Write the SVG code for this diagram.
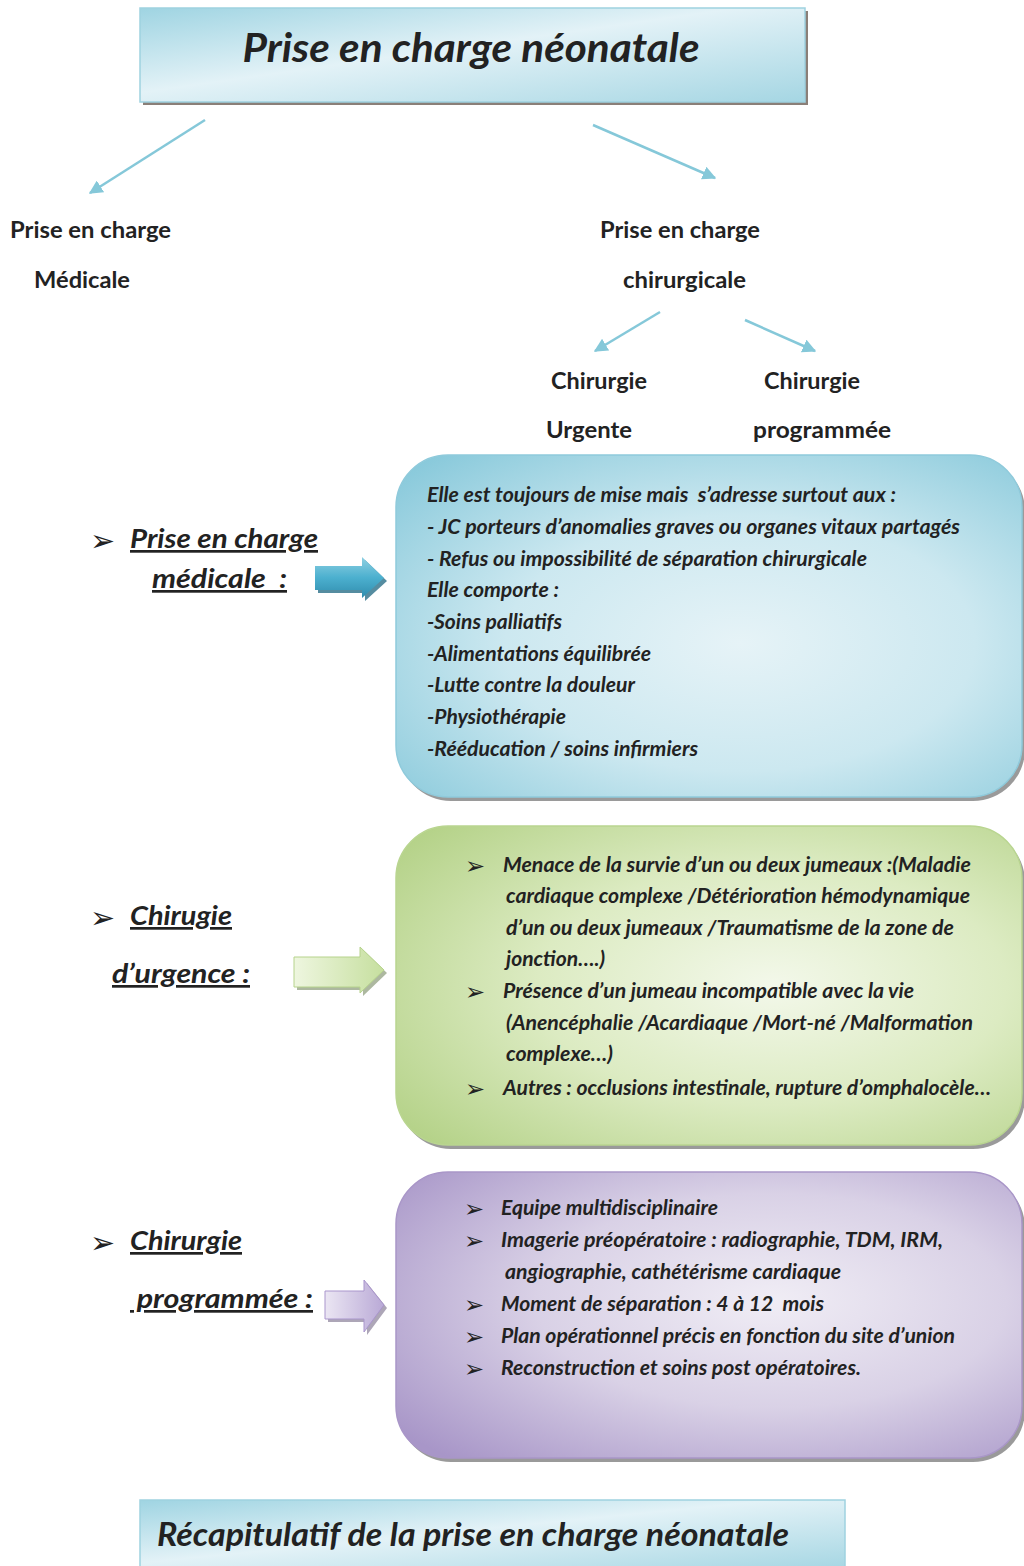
<svg xmlns="http://www.w3.org/2000/svg" width="1024" height="1566" viewBox="0 0 1024 1566">
<style>
  .t{font-family:"Lato","Open Sans",sans-serif;font-weight:bold;fill:#222;}
  .it{font-style:italic;}
  .lbl{font-size:22px;}
  .body{font-size:20px;font-style:italic;}
  .head{font-size:27px;font-style:italic;text-decoration:underline;white-space:pre;}
  .bul{font-family:"DejaVu Sans",sans-serif;font-size:24px;fill:#222;}
  .bulL{font-family:"DejaVu Sans",sans-serif;font-size:30px;fill:#222;}
  .conn{stroke:#85c8d9;stroke-width:2.5;fill:none;marker-end:url(#ah);}
</style>
<defs>
  <marker id="ah" viewBox="0 0 10 10" refX="9" refY="5" markerWidth="5.5" markerHeight="5.5" orient="auto" markerUnits="strokeWidth">
    <path d="M0,0 L10,5 L0,10 z" fill="#85c8d9"/>
  </marker>
  <linearGradient id="gTitle" x1="0" y1="0" x2="1" y2="1">
    <stop offset="0" stop-color="#9fd4e2"/>
    <stop offset="0.45" stop-color="#e3f2f7"/>
    <stop offset="1" stop-color="#a5d6e3"/>
  </linearGradient>
  <radialGradient id="gBlue" cx="0.55" cy="0.55" r="0.75">
    <stop offset="0" stop-color="#e6f3f7"/>
    <stop offset="0.5" stop-color="#cce8f0"/>
    <stop offset="1" stop-color="#86c8da"/>
  </radialGradient>
  <radialGradient id="gGreen" cx="0.6" cy="0.5" r="0.75">
    <stop offset="0" stop-color="#f3f8ea"/>
    <stop offset="0.5" stop-color="#dcebc2"/>
    <stop offset="1" stop-color="#b3d186"/>
  </radialGradient>
  <radialGradient id="gPurple" cx="0.6" cy="0.45" r="0.75">
    <stop offset="0" stop-color="#f0edf5"/>
    <stop offset="0.5" stop-color="#d9d1e6"/>
    <stop offset="1" stop-color="#a896c8"/>
  </radialGradient>
  <linearGradient id="aBlue" x1="0" y1="0" x2="0" y2="1">
    <stop offset="0" stop-color="#8fd0e2"/>
    <stop offset="0.5" stop-color="#4cb0cf"/>
    <stop offset="1" stop-color="#2f8cad"/>
  </linearGradient>
  <linearGradient id="aGreen" x1="0" y1="0" x2="1" y2="0">
    <stop offset="0" stop-color="#eef6df"/>
    <stop offset="1" stop-color="#c6df9f"/>
  </linearGradient>
  <linearGradient id="aPurple" x1="0" y1="0" x2="1" y2="0">
    <stop offset="0" stop-color="#ebe6f3"/>
    <stop offset="1" stop-color="#b9a9d6"/>
  </linearGradient>
</defs>
<rect width="1024" height="1566" fill="#ffffff"/>

<g id="title">
  <rect x="143" y="11" width="665" height="94" fill="#8a7f78"/>
  <rect x="140" y="8" width="665" height="94" fill="url(#gTitle)" stroke="#9fd2e0" stroke-width="1.5"/>
  <text class="t it" x="471" y="62" font-size="40" text-anchor="middle" textLength="457" lengthAdjust="spacingAndGlyphs">Prise en charge néonatale</text>
</g>

<g id="connectors">
  <line class="conn" x1="205" y1="120" x2="90" y2="193"/>
  <line class="conn" x1="593" y1="125" x2="715" y2="178"/>
  <line class="conn" x1="660" y1="312" x2="595" y2="351"/>
  <line class="conn" x1="745" y1="320" x2="815" y2="351"/>
</g>

<g id="n-medicale">
  <text class="t lbl" x="10" y="238" textLength="161" lengthAdjust="spacingAndGlyphs">Prise en charge</text>
  <text class="t lbl" x="34" y="288" textLength="96" lengthAdjust="spacingAndGlyphs">Médicale</text>
</g>
<g id="n-chirurgicale">
  <text class="t lbl" x="600" y="238" textLength="160" lengthAdjust="spacingAndGlyphs">Prise en charge</text>
  <text class="t lbl" x="623" y="288" textLength="123" lengthAdjust="spacingAndGlyphs">chirurgicale</text>
</g>
<g id="n-urgente">
  <text class="t lbl" x="551" y="389" textLength="96" lengthAdjust="spacingAndGlyphs">Chirurgie</text>
  <text class="t lbl" x="546" y="438" textLength="86" lengthAdjust="spacingAndGlyphs">Urgente</text>
</g>
<g id="n-programmee">
  <text class="t lbl" x="764" y="389" textLength="96" lengthAdjust="spacingAndGlyphs">Chirurgie</text>
  <text class="t lbl" x="753" y="438" textLength="138" lengthAdjust="spacingAndGlyphs">programmée</text>
</g>

<!-- Section 1 -->
<g id="label-medicale">
  <text class="bulL" x="90" y="551">➢</text>
  <text class="t head" x="130" y="548" textLength="188" lengthAdjust="spacingAndGlyphs">Prise en charge</text>
  <text class="t head" x="152" y="588" textLength="135" lengthAdjust="spacingAndGlyphs" xml:space="preserve">médicale  :</text>
</g>
<g id="arrow-medicale">
  <path d="M318,569 H365 V560 L387,581 L365,601 V593 H318 Z" fill="#2a6f88" opacity="0.8"/>
  <path d="M315,566 H362 V557 L384,578 L362,598 V590 H315 Z" fill="url(#aBlue)"/>
</g>
<g id="box-medicale">
  <rect x="399" y="459" width="626" height="342" rx="52" fill="#9a9a9a"/>
  <rect x="396" y="455" width="626" height="342" rx="52" fill="url(#gBlue)" stroke="#8fcadb" stroke-width="1.5"/>
  <g class="t body">
    <text x="427" y="502" textLength="469" lengthAdjust="spacingAndGlyphs" xml:space="preserve">Elle est toujours de mise mais  s’adresse surtout aux :</text>
    <text x="427" y="534" textLength="533" lengthAdjust="spacingAndGlyphs">- JC porteurs d’anomalies graves ou organes vitaux partagés</text>
    <text x="427" y="566" textLength="440" lengthAdjust="spacingAndGlyphs">- Refus ou impossibilité de séparation chirurgicale</text>
    <text x="427" y="597" textLength="132" lengthAdjust="spacingAndGlyphs">Elle comporte :</text>
    <text x="427" y="629" textLength="135" lengthAdjust="spacingAndGlyphs">-Soins palliatifs</text>
    <text x="427" y="661" textLength="224" lengthAdjust="spacingAndGlyphs">-Alimentations équilibrée</text>
    <text x="427" y="692" textLength="208" lengthAdjust="spacingAndGlyphs">-Lutte contre la douleur</text>
    <text x="427" y="724" textLength="139" lengthAdjust="spacingAndGlyphs">-Physiothérapie</text>
    <text x="427" y="756" textLength="271" lengthAdjust="spacingAndGlyphs">-Rééducation / soins infirmiers</text>
  </g>
</g>

<!-- Section 2 -->
<g id="label-urgence">
  <text class="bulL" x="90" y="928">➢</text>
  <text class="t head" x="130" y="925" textLength="102" lengthAdjust="spacingAndGlyphs">Chirugie</text>
  <text class="t head" x="112" y="983" textLength="138" lengthAdjust="spacingAndGlyphs">d’urgence :</text>
</g>
<g id="arrow-urgence">
  <path d="M297,960 H363 V950 L387,973 L363,996 V990 H297 Z" fill="#8a9a78" opacity="0.7"/>
  <path d="M294,957 H360 V947 L384,970 L360,993 V987 H294 Z" fill="url(#aGreen)" stroke="#b6d38c" stroke-width="1"/>
</g>
<g id="box-urgence">
  <rect x="399" y="830" width="626" height="319" rx="52" fill="#9a9a9a"/>
  <rect x="396" y="826" width="626" height="319" rx="52" fill="url(#gGreen)" stroke="#b9d590" stroke-width="1.5"/>
  <g class="bul">
    <text x="465" y="874">➢</text>
    <text x="465" y="1000">➢</text>
    <text x="465" y="1097">➢</text>
  </g>
  <g class="t body">
    <text x="503" y="872" textLength="468" lengthAdjust="spacingAndGlyphs">Menace de la survie d’un ou deux jumeaux :(Maladie</text>
    <text x="506" y="903" textLength="464" lengthAdjust="spacingAndGlyphs">cardiaque complexe /Détérioration hémodynamique</text>
    <text x="506" y="935" textLength="448" lengthAdjust="spacingAndGlyphs">d’un ou deux jumeaux /Traumatisme de la zone de</text>
    <text x="506" y="966" textLength="99" lengthAdjust="spacingAndGlyphs">jonction….)</text>
    <text x="503" y="998" textLength="411" lengthAdjust="spacingAndGlyphs">Présence d’un jumeau incompatible avec la vie</text>
    <text x="506" y="1030" textLength="467" lengthAdjust="spacingAndGlyphs">(Anencéphalie /Acardiaque /Mort-né /Malformation</text>
    <text x="506" y="1061" textLength="107" lengthAdjust="spacingAndGlyphs">complexe…)</text>
    <text x="503" y="1095" textLength="488" lengthAdjust="spacingAndGlyphs">Autres : occlusions intestinale, rupture d’omphalocèle…</text>
  </g>
</g>

<!-- Section 3 -->
<g id="label-programmee">
  <text class="bulL" x="90" y="1253">➢</text>
  <text class="t head" x="130" y="1250" textLength="112" lengthAdjust="spacingAndGlyphs">Chirurgie</text>
  <text class="t head" x="130" y="1308" textLength="183" lengthAdjust="spacingAndGlyphs" xml:space="preserve"> programmée :</text>
</g>
<g id="arrow-programmee">
  <path d="M328,1294 H367 V1283 L387,1308 L367,1335 V1322 H328 Z" fill="#8a8098" opacity="0.7"/>
  <path d="M325,1291 H364 V1280 L384,1305 L364,1332 V1319 H325 Z" fill="url(#aPurple)" stroke="#a995cc" stroke-width="1"/>
</g>
<g id="box-programmee">
  <rect x="399" y="1176" width="626" height="286" rx="52" fill="#9a9a9a"/>
  <rect x="396" y="1172" width="626" height="286" rx="52" fill="url(#gPurple)" stroke="#a996c8" stroke-width="1.5"/>
  <g class="bul">
    <text x="464" y="1217">➢</text>
    <text x="464" y="1249">➢</text>
    <text x="464" y="1313">➢</text>
    <text x="464" y="1345">➢</text>
    <text x="464" y="1377">➢</text>
  </g>
  <g class="t body">
    <text x="501" y="1215" textLength="217" lengthAdjust="spacingAndGlyphs">Equipe multidisciplinaire</text>
    <text x="501" y="1247" textLength="442" lengthAdjust="spacingAndGlyphs">Imagerie préopératoire : radiographie, TDM, IRM,</text>
    <text x="505" y="1279" textLength="336" lengthAdjust="spacingAndGlyphs">angiographie, cathétérisme cardiaque</text>
    <text x="501" y="1311" textLength="323" lengthAdjust="spacingAndGlyphs" xml:space="preserve">Moment de séparation : 4 à 12  mois</text>
    <text x="501" y="1343" textLength="454" lengthAdjust="spacingAndGlyphs">Plan opérationnel précis en fonction du site d’union</text>
    <text x="501" y="1375" textLength="360" lengthAdjust="spacingAndGlyphs">Reconstruction et soins post opératoires.</text>
  </g>
</g>

<g id="footer">
  <rect x="140" y="1500" width="705" height="70" fill="url(#gTitle)" stroke="#9fd2e0" stroke-width="1.5"/>
  <text class="t it" x="157" y="1546" font-size="33" textLength="632" lengthAdjust="spacingAndGlyphs">Récapitulatif de la prise en charge néonatale</text>
</g>
</svg>
